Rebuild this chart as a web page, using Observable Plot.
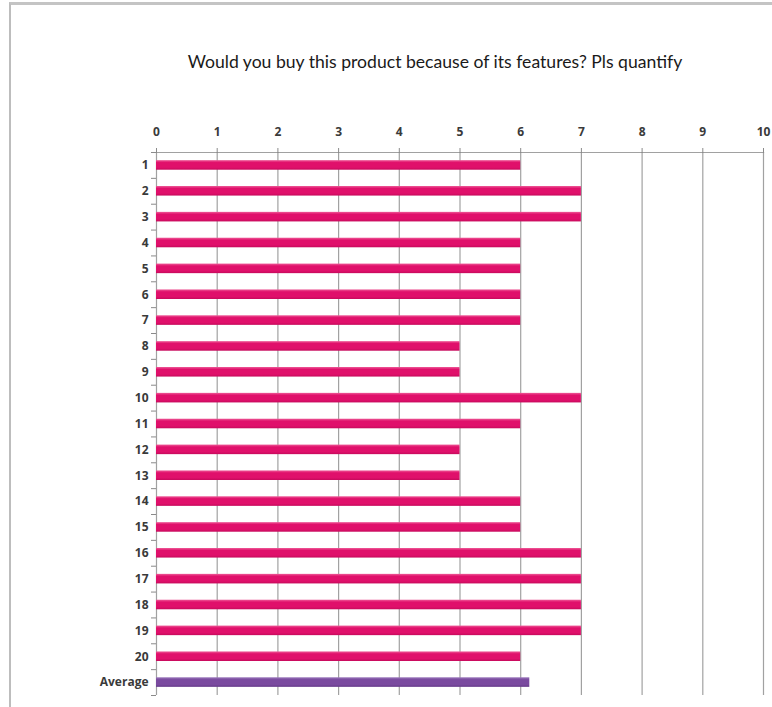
<!DOCTYPE html>
<html>
<head>
<meta charset="utf-8">
<script src="https://cdn.jsdelivr.net/npm/d3@7"></script>
<script src="https://cdn.jsdelivr.net/npm/@observablehq/plot@0.6"></script>
<style>
  html, body { margin: 0; padding: 0; background: #fff; }
  #wrap { position: relative; width: 772px; height: 707px; overflow: hidden; }
  #frame { position: absolute; left: 9px; top: 2px; width: 800px; height: 800px;
           border-left: 2px solid #bdbdbd; border-top: 3px solid #c4c4c4; }
  #title { position: absolute; left: 98px; width: 674px; top: 50px; text-align: center;
           font-family: Lato, sans-serif; font-size: 17.6px; color: #1a1a1a; line-height: 24px; }
  #chart { position: absolute; left: 0; top: 0; }
</style>
</head>
<body>
<div id="wrap">
  <div id="frame"></div>
  <div id="title">Would you buy this product because of its features? Pls quantify</div>
  <div id="chart"></div>
</div>
<script>
const categories = ["1","2","3","4","5","6","7","8","9","10","11","12","13","14","15","16","17","18","19","20","Average"];
const values = [6,7,7,6,6,6,6,5,5,7,6,5,5,6,6,7,7,7,7,6,6.15];
const xTicks = [0,1,2,3,4,5,6,7,8,9,10];

const data = categories.map((c, i) => ({cat: c, value: values[i], avg: c === "Average"}));

const plot = Plot.plot({
  width: 772,
  height: 707,
  marginTop: 152,
  marginLeft: 156,
  marginRight: 9,
  marginBottom: 12,
  style: {fontFamily: "Open Sans, sans-serif", fontSize: "12px", fontWeight: "bold", color: "#3a3a3a", background: "transparent"},
  x: {domain: [0, 10], axis: null},
  y: {domain: categories, paddingInner: 0.63, paddingOuter: 0.315, round: false, axis: null},
  marks: [
    Plot.gridX(xTicks, {stroke: "#8a8a8a", strokeOpacity: 0.8, strokeWidth: 1.2}),
    Plot.frame({anchor: "top", stroke: "#8a8a8a", strokeOpacity: 0.8, strokeWidth: 1.2}),
    Plot.axisX(xTicks, {anchor: "top", label: null, tickSize: 5, tickPadding: 12, stroke: "#8a8a8a", fill: "#3a3a3a", tickFormat: d3.format("d")}),
    Plot.axisY({label: null, tickSize: 0, tickPadding: 8, fill: "#3a3a3a"}),
    Plot.axisY({label: null, tickSize: 5, text: null, dy: 12.93, stroke: "#8a8a8a"}),
    Plot.axisY([categories[0]], {label: null, tickSize: 5, text: null, dy: -12.93, stroke: "#8a8a8a"}),
    Plot.barX(data, {y: "cat", x: "value", fill: d => d.avg ? "url(#gAvg)" : "url(#gPink)"})
  ]
});

const defs = d3.select(plot).insert("defs", ":first-child");
function grad(id, c1, c2, c3) {
  const g = defs.append("linearGradient").attr("id", id).attr("x1", 0).attr("x2", 0).attr("y1", 0).attr("y2", 1);
  g.append("stop").attr("offset", "0%").attr("stop-color", c1);
  g.append("stop").attr("offset", "25%").attr("stop-color", c2);
  g.append("stop").attr("offset", "75%").attr("stop-color", c2);
  g.append("stop").attr("offset", "100%").attr("stop-color", c3);
}
grad("gPink", "#ee5b98", "#e0106b", "#c60a5c");
grad("gAvg", "#9a77bb", "#7a4a9f", "#663b8a");

document.getElementById("chart").appendChild(plot);
</script>
</body>
</html>
